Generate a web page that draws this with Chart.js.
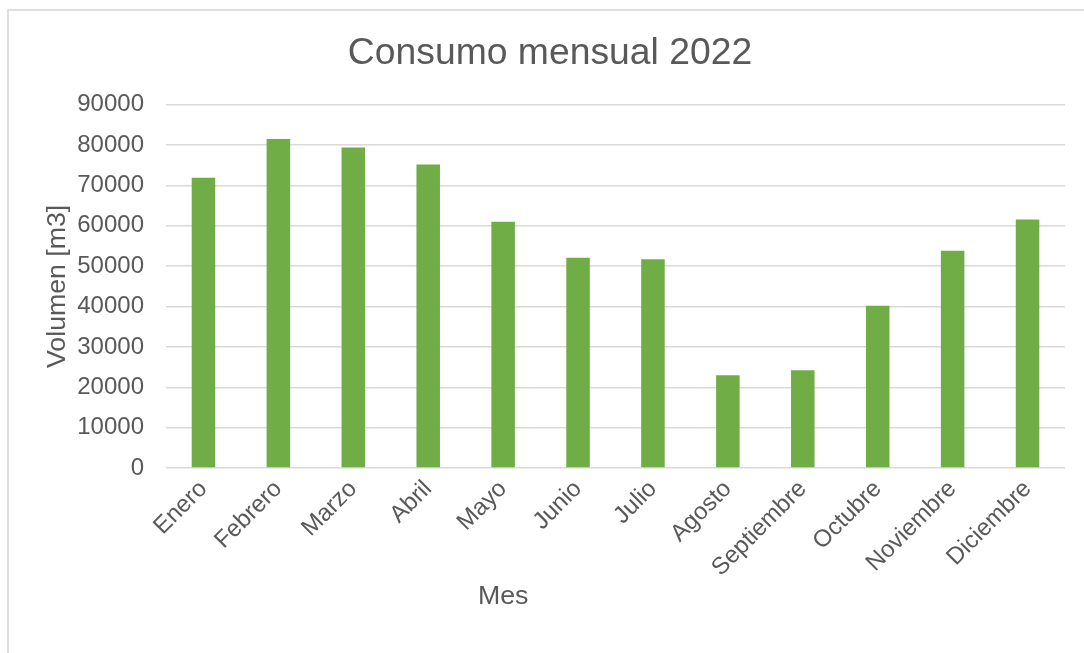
<!DOCTYPE html>
<html>
<head>
<meta charset="utf-8">
<title>Consumo mensual 2022</title>
<script src="https://cdn.jsdelivr.net/npm/chart.js@4/dist/chart.umd.min.js"></script>
<style>
  html, body { margin: 0; padding: 0; background: #fff; }
  #wrap { position: relative; width: 1084px; height: 653px; overflow: hidden; }
  #frame { position: absolute; left: 7px; top: 9px; width: 1200px; height: 800px; border: 2px solid #dedede; box-sizing: border-box; }
  #myChart { position: absolute; left: 0; top: 0; }
</style>
</head>
<body>
<div id="wrap">
  <div id="frame"></div>
  <canvas id="myChart" width="1084" height="653"></canvas>
</div>
<script>
// datos
const meses = ['Enero', 'Febrero', 'Marzo', 'Abril', 'Mayo', 'Junio', 'Julio', 'Agosto', 'Septiembre', 'Octubre', 'Noviembre', 'Diciembre'];
const volumen = [71900, 81500, 79400, 75200, 61000, 52100, 51700, 23000, 24200, 40200, 53800, 61600];
const yMin = 0;
const yMax = 90000;
const yPaso = 10000;

const gris = '#595959';
const fuente = "'Liberation Sans', Arial, sans-serif";

// titulo del eje X (desplazado a la izquierda como en el original)
const tituloMes = {
    id: 'tituloMes',
    afterDraw(chart) {
        const { ctx, chartArea } = chart;
        ctx.save();
        ctx.font = '26.7px ' + fuente;
        ctx.fillStyle = gris;
        ctx.textAlign = 'center';
        ctx.textBaseline = 'middle';
        ctx.fillText('Mes', chartArea.left + (chartArea.right - chartArea.left) * 0.375, 597);
        ctx.restore();
    }
};

const ctx = document.getElementById('myChart').getContext('2d');
new Chart(ctx, {
    type: 'bar',
    data: {
        labels: meses,
        datasets: [{
            label: 'Volumen',
            data: volumen,
            backgroundColor: '#70AD47',
            borderWidth: 0,
            barPercentage: 0.314,
            categoryPercentage: 1,
        }],
    },
    options: {
        responsive: false,
        animation: false,
        layout: { padding: { left: 35, right: 19, top: 0, bottom: 0 } },
        plugins: {
            legend: { display: false },
            tooltip: { enabled: false },
            title: {
                display: true,
                text: 'Consumo mensual 2022',
                color: gris,
                font: { family: fuente, size: 37.3, weight: 'normal' },
                padding: { top: 31, bottom: 29 },
            },
        },
        scales: {
            x: {
                grid: { display: false },
                border: { display: false },
                ticks: {
                    color: gris,
                    font: { family: fuente, size: 24 },
                    minRotation: 45,
                    maxRotation: 45,
                    autoSkip: false,
                    padding: -1,
                },
                afterFit: (s) => { s.height = 185; },
            },
            y: {
                min: yMin,
                max: yMax,
                grid: { color: '#d9d9d9', lineWidth: 1.5, drawTicks: false },
                border: { display: false },
                ticks: {
                    stepSize: yPaso,
                    color: gris,
                    font: { family: fuente, size: 24 },
                    padding: 22,
                    callback: (v) => String(v),
                },
                title: {
                    display: true,
                    text: 'Volumen [m3]',
                    color: gris,
                    font: { family: fuente, size: 26.7 },
                    padding: { top: 7, bottom: 0 },
                },
                afterFit: (s) => { s.width = 131; },
            },
        },
    },
    plugins: [tituloMes],
});
</script>
</body>
</html>
